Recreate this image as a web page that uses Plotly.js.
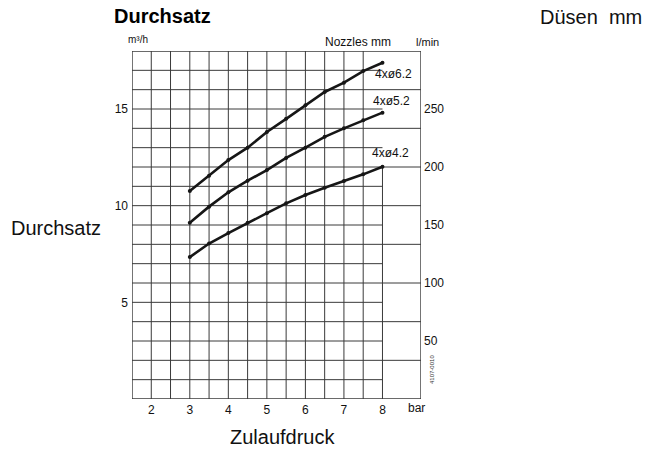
<!DOCTYPE html>
<html>
<head>
<meta charset="utf-8">
<script src="https://cdn.plot.ly/plotly-3.0.1.min.js"></script>
<style>html,body{margin:0;padding:0;background:#fff;}#chart{width:648px;height:451px;}</style>
</head>
<body>
<div id="chart"></div>
<script>
// ---- data ----
const pressureBar = [3, 3.5, 4, 4.5, 5, 5.5, 6, 6.5, 7, 7.5, 8];
const flow62 = [10.76, 11.55, 12.36, 13.0, 13.81, 14.49, 15.19, 15.88, 16.36, 16.96, 17.39];
const flow52 = [9.12, 9.95, 10.69, 11.29, 11.84, 12.47, 13.0, 13.56, 14.0, 14.42, 14.81];
const flow42 = [7.34, 8.04, 8.58, 9.11, 9.61, 10.12, 10.55, 10.93, 11.27, 11.62, 12.01];
const nozzleNames = ['4xø6.2', '4xø5.2', '4xø4.2'];
const xTickVals = [2, 3, 4, 5, 6, 7, 8];
const yTickVals = [5, 10, 15];
const lminTickVals = [50, 100, 150, 200, 250];

const FONT = 'Liberation Sans, Arial, Helvetica, sans-serif';
const X0 = 1.5, X1 = 9, XG = 8, Y0 = 0, Y1 = 18;
const M3H_TO_LMIN = 1000 / 60;

const lineStyle = {color: '#161616', width: 2.6};
const markerStyle = {color: '#161616', size: 4};
const series = [flow62, flow52, flow42];
const traces = series.map((ys, i) => ({
  x: pressureBar, y: ys, type: 'scatter', mode: 'lines+markers',
  line: lineStyle, marker: markerStyle, name: nozzleNames[i], hoverinfo: 'x+y'
}));
// invisible trace to activate the secondary axis
traces.push({x: [X0], y: [0], yaxis: 'y2', type: 'scatter', mode: 'markers',
  marker: {opacity: 0}, showlegend: false, hoverinfo: 'skip'});

// ---- grid shapes ----
const shapes = [];
const gridLine = {color: '#3a3a3a', width: 1};
for (let v = 2; v < XG; v += 0.5) {
  shapes.push({type: 'line', xref: 'x', yref: 'y', x0: v, x1: v, y0: Y0, y1: Y1, line: gridLine, layer: 'below'});
}
shapes.push({type: 'line', xref: 'x', yref: 'y', x0: XG, x1: XG, y0: Y0, y1: 12, line: gridLine, layer: 'below'});
for (let h = 1; h < Y1; h++) {
  const xEnd = (h % 2 === 0) ? X1 : XG;
  shapes.push({type: 'line', xref: 'x', yref: 'y', x0: X0, x1: xEnd, y0: h, y1: h, line: gridLine, layer: 'below'});
}
shapes.push({type: 'rect', xref: 'x', yref: 'y', x0: X0, x1: X1, y0: Y0, y1: Y1,
  line: {color: '#3a3a3a', width: 1.4}, layer: 'below'});

// ---- annotations ----
const labelY = [16.8, 15.4, 12.7];
const labelX = [8.28, 8.23, 8.2];
const annotations = nozzleNames.map((t, i) => ({
  text: t, x: labelX[i], y: labelY[i], xref: 'x', yref: 'y', showarrow: false,
  font: {family: FONT, size: 12, color: '#111'}, xanchor: 'center', yanchor: 'middle'
}));
annotations.push(
  {text: 'Durchsatz', xref: 'paper', yref: 'paper', x: -0.069, y: 1.10, xanchor: 'left', yanchor: 'middle',
   showarrow: false, font: {family: FONT, size: 20, color: '#000', weight: 'bold'}},
  {text: 'Düsen  mm', xref: 'paper', yref: 'paper', x: 1.77, y: 1.098, xanchor: 'right', yanchor: 'middle',
   showarrow: false, font: {family: FONT, size: 20, color: '#111'}},
  {text: 'm³/h', xref: 'paper', yref: 'paper', x: 0.022, y: 1.034, xanchor: 'center', yanchor: 'middle',
   showarrow: false, font: {family: FONT, size: 10, color: '#111'}},
  {text: 'Nozzles mm', xref: 'paper', yref: 'paper', x: 0.903, y: 1.026, xanchor: 'right', yanchor: 'middle',
   showarrow: false, font: {family: FONT, size: 12, color: '#111'}},
  {text: 'l/min', xref: 'paper', yref: 'paper', x: 1.021, y: 1.026, xanchor: 'center', yanchor: 'middle',
   showarrow: false, font: {family: FONT, size: 11, color: '#111'}},
  {text: 'bar', xref: 'paper', yref: 'paper', x: 0.983, y: -0.026, xanchor: 'center', yanchor: 'middle',
   showarrow: false, font: {family: FONT, size: 12, color: '#111'}},
  {text: 'Durchsatz', xref: 'paper', yref: 'paper', x: -0.425, y: 0.49, xanchor: 'left', yanchor: 'middle',
   showarrow: false, font: {family: FONT, size: 20, color: '#111'}},
  {text: 'Zulaufdruck', xref: 'paper', yref: 'paper', x: 0.52, y: -0.11, xanchor: 'center', yanchor: 'middle',
   showarrow: false, font: {family: FONT, size: 20, color: '#111'}},
  {text: '4107-0010', xref: 'paper', yref: 'paper', x: 1.04, y: 0.085, xanchor: 'center', yanchor: 'middle',
   textangle: -90, showarrow: false, font: {family: FONT, size: 6, color: '#333'}}
);

const layout = {
  width: 648, height: 451,
  margin: {l: 132, r: 227, t: 51, b: 52},
  paper_bgcolor: '#fff', plot_bgcolor: '#fff',
  showlegend: false,
  xaxis: {range: [X0, X1], tickvals: xTickVals, showgrid: false, zeroline: false,
    showline: false, ticks: '', ticklabelstandoff: 2,
    tickfont: {family: FONT, size: 12, color: '#111'}, fixedrange: true},
  yaxis: {range: [Y0, Y1], tickvals: yTickVals, showgrid: false, zeroline: false,
    showline: false, ticks: '', ticklabelstandoff: 3,
    tickfont: {family: FONT, size: 12, color: '#111'}, fixedrange: true},
  yaxis2: {range: [Y0 * M3H_TO_LMIN, Y1 * M3H_TO_LMIN], tickvals: lminTickVals, overlaying: 'y', side: 'right',
    showgrid: false, zeroline: false, showline: false, ticks: '', ticklabelstandoff: 2,
    tickfont: {family: FONT, size: 12, color: '#111'}, fixedrange: true},
  shapes: shapes,
  annotations: annotations
};

Plotly.newPlot('chart', traces, layout, {displayModeBar: false, staticPlot: true});
</script>
</body>
</html>
